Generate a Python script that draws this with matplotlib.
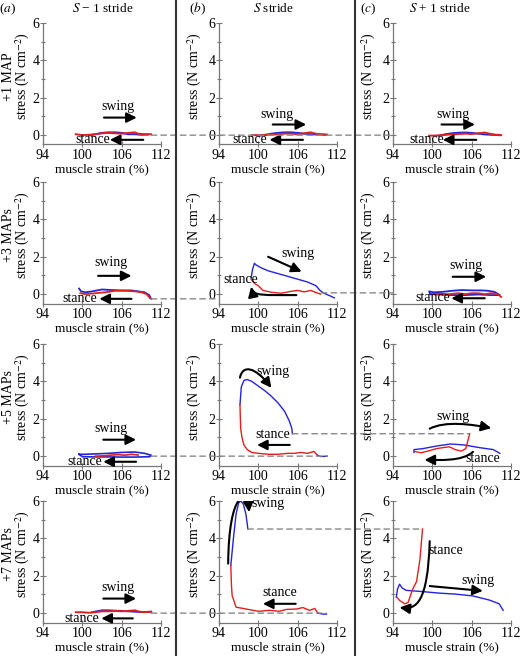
import matplotlib
matplotlib.use("Agg")
import matplotlib.pyplot as plt
from matplotlib.patches import ConnectionPatch, FancyArrowPatch
from matplotlib.path import Path
from matplotlib.lines import Line2D

plt.rcParams['font.family'] = ['Liberation Serif', 'DejaVu Serif']
plt.rcParams['mathtext.fontset'] = 'stix'

# ---- data: (strain %, stress N cm-2) read off the work loops ----
# row 1: +1 MAP
a1_red = [(99, 0.05), (100, 0.0), (101, 0.02), (102, 0.05), (103, 0.1), (104, 0.12), (105, 0.1),
          (106, 0.08), (107, 0.12), (108, 0.15), (108.5, 0.08), (109.5, 0.05), (110.5, 0.05)]
a1_blue = [(101, -0.02), (102, 0.05), (103, 0.12), (104, 0.15), (105, 0.15), (106, 0.12),
           (107, 0.05), (108, 0.05), (109, 0.02), (110, 0.03)]
b1_red = [(99, 0.0), (100, 0.0), (101, 0.02), (102, 0.03), (103, 0.05), (104, 0.08), (105, 0.08),
          (106, 0.05), (107, 0.1), (108, 0.15), (108.7, 0.08), (109.5, 0.05), (110.5, 0.03)]
b1_blue = [(100, -0.03), (101, 0.0), (102, 0.08), (103, 0.12), (104, 0.15), (105, 0.15),
           (106, 0.12), (107, 0.08), (108, 0.05), (109, 0.03), (110.3, 0.02)]
c1_red = [(99.5, -0.03), (100.5, -0.02), (101.5, 0.0), (102.5, 0.03), (104, 0.06), (105, 0.08),
          (106, 0.06), (107, 0.1), (108, 0.14), (108.7, 0.08), (109.5, 0.03), (110.5, 0.0)]
c1_blue = [(101, -0.03), (102, 0.05), (103, 0.1), (104, 0.13), (105, 0.14), (106, 0.12),
           (107, 0.08), (108, 0.04), (109, 0.02), (110.3, 0.0)]

# row 2: +3 MAPs
a2_blue = [(99.5, 0.3), (99.8, 0.15), (100.5, 0.1), (101.5, 0.15), (103, 0.25), (104.5, 0.22),
           (106, 0.2), (107.5, 0.2), (108.5, 0.15), (109.5, 0.1), (110.2, -0.05), (110.5, -0.25)]
a2_red = [(99.7, 0.05), (100.5, 0.0), (102, 0.05), (103.5, 0.1), (105, 0.18), (106.5, 0.18),
          (108, 0.15), (109, 0.1), (109.8, 0.0), (110.3, -0.2)]
b2_blue = [(98.9, 0.85), (99.1, 1.3), (99.4, 1.65), (99.7, 1.55), (100.5, 1.4), (101.5, 1.25),
           (103, 1.1), (104.5, 0.95), (106, 0.8), (107.5, 0.65), (108.8, 0.45), (109.4, 0.2),
           (110, 0.05), (111, -0.1), (111.6, -0.2)]
b2_red = [(98.9, 0.8), (99.5, 0.55), (100, 0.45), (100.7, 0.2), (102, 0.1), (103.5, 0.05),
          (105, 0.15), (106, 0.2), (107, 0.12), (108, 0.2), (108.7, 0.1), (109.5, 0.0)]
c2_blue = [(99.7, 0.0), (99.5, 0.15), (100.2, 0.1), (101.5, 0.12), (103, 0.18), (104.5, 0.22),
           (106, 0.2), (107.5, 0.2), (108.5, 0.18), (109.5, 0.12), (110.3, -0.05), (109, -0.05),
           (107, -0.02), (105, -0.05), (103, -0.05), (101, -0.02), (99.7, 0.0)]
c2_red = [(100, 0.0), (101, 0.02), (102.5, 0.0), (104, 0.05), (105, 0.0), (106, 0.05), (107, 0.05),
          (108, 0.0), (109, 0.05), (110, 0.0), (110.5, -0.15)]

# row 3: +5 MAPs
a3_blue = [(99.5, 0.1), (100.5, 0.1), (102, 0.12), (104, 0.15), (106, 0.2), (108, 0.22),
           (109.5, 0.15), (110.5, 0.05), (110.3, -0.03), (108, -0.05), (106, -0.05),
           (104, -0.04), (102, -0.04), (100, -0.03), (99.5, 0.1)]
a3_red = [(102, 0.0), (103.5, 0.02), (104.5, 0.06), (105.5, 0.08), (106.5, 0.05), (107.5, 0.1),
          (108.5, 0.06)]
b3_blue = [(97.2, 2.75), (97.4, 3.7), (97.8, 4.05), (98.3, 4.1), (99, 4.0), (100, 3.75),
           (101, 3.5), (102, 3.2), (103, 2.85), (104, 2.4), (104.7, 1.9), (105.1, 1.5), (105.2, 1.2)]
b3_red = [(97.2, 2.75), (97.3, 1.5), (97.5, 1.0), (97.8, 0.6), (98.3, 0.35), (99, 0.2),
          (100, 0.15), (101.5, 0.1), (103, 0.1), (104.5, 0.15), (105.5, 0.15), (106.5, 0.2),
          (107.5, 0.15), (108.5, 0.25), (109, 0.05)]
b3_tail = [(109, 0.05), (109.5, -0.02), (110.5, 0.0)]
c3_blue = [(97.2, 0.2), (97.2, 0.35), (98.5, 0.4), (100.8, 0.55), (102.8, 0.65), (104.8, 0.6),
           (107.3, 0.45), (109.3, 0.35), (110.3, 0.15)]
c3_red = [(105.7, 1.2), (105.4, 0.8), (105.1, 0.4), (104.4, 0.27), (103.5, 0.35), (102.6, 0.5),
          (101.5, 0.45), (100.6, 0.4), (99.6, 0.3), (98.3, 0.18), (97.3, 0.25)]

# row 4: +7 MAPs
a4_red = [(99, 0.05), (100, 0.05), (101, 0.02), (102, 0.05), (103, 0.1), (104, 0.1), (105, 0.12),
          (106, 0.1), (107, 0.12), (108, 0.15), (108.7, 0.08), (109.5, 0.05), (110.5, 0.08)]
a4_blue = [(101.5, 0.05), (103, 0.15), (104, 0.15), (105, 0.13), (106, 0.12), (107, 0.1),
           (108, 0.08), (109, 0.06), (110.5, 0.07)]
b4_blue = [(95.8, 2.55), (96.2, 4.0), (96.6, 5.3), (97.0, 5.9), (97.3, 6.0), (97.7, 5.85),
           (98.1, 5.3), (98.3, 4.8), (98.4, 4.5)]
b4_red = [(95.8, 2.55), (95.9, 1.5), (96.0, 0.95), (96.6, 0.32), (97.7, 0.25), (100, 0.1),
          (101.7, 0.15), (103.2, 0.1), (104.3, 0.2), (105.8, 0.22), (106.8, 0.3), (107.8, 0.15),
          (108.6, 0.25), (109.1, 0.0)]
b4_tail = [(109.1, 0.0), (109.8, -0.05), (110.4, -0.05)]
c4_blue = [(94.5, 0.85), (94.7, 1.3), (95.0, 1.55), (95.4, 1.35), (96.0, 1.22), (98.6, 1.15),
           (101.1, 1.07), (103.5, 1.02), (106.2, 0.92), (108.7, 0.7), (110.2, 0.5), (110.8, 0.15)]
c4_red = [(98.5, 4.5), (98.1, 2.85), (97.6, 1.7), (97.0, 1.28), (96.3, 0.57), (95.8, 0.5),
          (95.0, 0.68), (94.6, 0.85)]

row_labels = ['+1 MAP', '+3 MAPs', '+5 MAPs', '+7 MAPs']
col_titles = ['$S$ \u2212 1 stride', '$S$ stride', '$S$ + 1 stride']
col_letters = ['($a$)', '($b$)', '($c$)']

RED = '#e0201c'
BLUE = '#2424d8'
W, H = 522, 656
col_left = [43, 219, 393]
col_title_x = [103, 273, 440]
col_letter_x = [7, 197, 368]
ylab_x = [-0.09, -0.125, -0.125]
row_top = [23, 182, 344, 501]
AXW, AXH = 118, 121.5

fig = plt.figure(figsize=(W / 100, H / 100), dpi=100)


def make_ax(r, c):
    ax = fig.add_axes([col_left[c] / W, 1 - (row_top[r] + AXH) / H, AXW / W, AXH / H])
    ax.set_xlim(94, 112)
    ax.set_ylim(-0.5, 6)
    ax.patch.set_alpha(0)
    for s in ['top', 'right']:
        ax.spines[s].set_visible(False)
    for s in ['left', 'bottom']:
        ax.spines[s].set_color('#777777')
        ax.spines[s].set_linewidth(0.9)
    ax.set_xticks([94, 100, 106, 112])
    ax.set_yticks([0, 2, 4, 6])
    ax.set_yticks([1, 3, 5], minor=True)
    ax.tick_params(which='both', direction='inout', color='#777777', width=0.8,
                   labelsize=10)
    ax.tick_params(axis='x', pad=1.5)
    ax.tick_params(axis='y', pad=0.5)
    ax.tick_params(which='major', length=4)
    ax.tick_params(which='minor', length=3)
    ax.set_xlabel('muscle strain (%)', fontsize=9.5, labelpad=0.5)
    lab = 'stress (N cm$^{-2}$)'
    if c == 0:
        lab = row_labels[r] + '\n' + lab
    ax.set_ylabel(lab, fontsize=10, linespacing=0.95)
    ax.yaxis.set_label_coords(ylab_x[c], 0.56)
    return ax


def line(ax, pts, color, lw=1.0):
    ax.plot([p[0] for p in pts], [p[1] for p in pts], color=color, lw=lw, zorder=3)


HEAD = '-|>,head_length=0.6,head_width=0.3'


def arrow(ax, x0, y0, x1, y1):
    ax.annotate('', xy=(x1, y1), xytext=(x0, y0),
                arrowprops=dict(arrowstyle=HEAD, color='k', lw=1.5, shrinkA=0, shrinkB=0,
                                mutation_scale=10), zorder=4)


def curved(ax, p0, c1, c2, p3):
    path = Path([p0, c1, c2, p3], [Path.MOVETO, Path.CURVE4, Path.CURVE4, Path.CURVE4])
    ax.add_patch(FancyArrowPatch(path=path, arrowstyle=HEAD, color='k', lw=1.5,
                                 mutation_scale=10, zorder=4))


def txt(ax, x, y, s):
    ax.text(x, y, s, fontsize=10, ha='center', va='center', zorder=5)


axes = [[make_ax(r, c) for c in range(3)] for r in range(4)]

# row 1
for c, (red, blue, sw, st) in enumerate([
        (a1_red, a1_blue, (105.4, 1.54, 103.3, 108.3, 0.94), (101.6, 104.2, 109.3)),
        (b1_red, b1_blue, (102.8, 1.1, 102.2, 107.3, 0.57), (98.7, 101.7, 106.8)),
        (c1_red, c1_blue, (103.1, 1.1, 101.4, 106.5, 0.57), (99.1, 101.6, 106.7))]):
    ax = axes[0][c]
    line(ax, blue, BLUE, 1.4)
    line(ax, red, RED, 1.4)
    txt(ax, sw[0], sw[1], 'swing')
    arrow(ax, sw[2], sw[4], sw[3], sw[4])
    txt(ax, st[0], -0.25, 'stance')
    arrow(ax, st[2], -0.25, st[1], -0.25)

# row 2
ax = axes[1][0]
line(ax, a2_blue, BLUE, 1.3)
line(ax, a2_red, RED, 1.3)
txt(ax, 104.4, 1.7, 'swing')
arrow(ax, 102.4, 0.98, 107.5, 0.98)
txt(ax, 99.6, -0.23, 'stance')
arrow(ax, 107.5, -0.25, 102.6, -0.25)

ax = axes[1][1]
line(ax, b2_blue, BLUE)
line(ax, b2_red, RED)
txt(ax, 106.0, 2.2, 'swing')
arrow(ax, 101.5, 2.0, 106.6, 1.2)
txt(ax, 97.3, 0.78, 'stance')
curved(ax, (105.8, -0.05), (101, -0.05), (99.2, -0.1), (98.9, 0.4))

ax = axes[1][2]
line(ax, c2_blue, BLUE, 1.3)
line(ax, c2_red, RED, 1.3)
txt(ax, 105.2, 1.55, 'swing')
arrow(ax, 103.1, 0.93, 108.2, 0.93)
txt(ax, 100.1, -0.2, 'stance')
arrow(ax, 108.0, -0.22, 102.9, -0.22)

# row 3
ax = axes[2][0]
line(ax, a3_blue, BLUE, 1.2)
line(ax, a3_red, RED, 1.2)
txt(ax, 104.4, 1.5, 'swing')
arrow(ax, 103.2, 0.88, 108.2, 0.88)
txt(ax, 100.4, -0.3, 'stance')
arrow(ax, 108.2, -0.3, 103.2, -0.3)

ax = axes[2][1]
line(ax, b3_blue, BLUE)
line(ax, b3_red, RED)
line(ax, b3_tail, BLUE)
txt(ax, 102.2, 4.55, 'swing')
curved(ax, (97.2, 4.2), (97.6, 4.9), (99.5, 4.8), (102.0, 3.65))
txt(ax, 102.2, 1.15, 'stance')
arrow(ax, 104.8, 0.6, 99.8, 0.6)

ax = axes[2][2]
line(ax, c3_blue, BLUE)
line(ax, c3_red, RED)
txt(ax, 103.1, 2.13, 'swing')
curved(ax, (99.6, 1.47), (102, 1.9), (106, 1.7), (109.0, 1.5))
txt(ax, 107.7, -0.12, 'stance')
curved(ax, (106.2, 0.23), (104.5, -0.3), (101, -0.2), (98.8, -0.2))

# row 4
ax = axes[3][0]
line(ax, a4_blue, BLUE, 1.4)
line(ax, a4_red, RED, 1.4)
txt(ax, 105.5, 1.37, 'swing')
arrow(ax, 103.2, 0.78, 108.2, 0.78)
txt(ax, 99.9, -0.28, 'stance')
arrow(ax, 107.7, -0.28, 102.9, -0.28)

ax = axes[3][1]
line(ax, b4_blue, BLUE)
line(ax, b4_red, RED)
line(ax, b4_tail, BLUE)
txt(ax, 101.5, 5.85, 'swing')
curved(ax, (95.4, 2.65), (95.5, 6.6), (98.3, 6.6), (98.6, 5.4))
txt(ax, 103.3, 1.1, 'stance')
arrow(ax, 105.7, 0.5, 100.7, 0.5)

ax = axes[3][2]
line(ax, c4_blue, BLUE)
line(ax, c4_red, RED)
txt(ax, 102.0, 3.35, 'stance')
curved(ax, (99.6, 3.85), (99.3, 0.5), (97.5, 0.2), (95.0, 0.3))
txt(ax, 107.0, 1.75, 'swing')
arrow(ax, 99.6, 1.45, 107.7, 1.19)

# dashed links between strides
links = [((0, 0), (110.5, 0.0), (0, 2), (94, 0.0)),
         ((1, 0), (110.5, -0.25), (1, 1), (94, -0.25)),
         ((1, 1), (109.6, 0.07), (1, 2), (94, 0.07)),
         ((2, 0), (110.5, 0.0), (2, 1), (110.5, 0.0)),
         ((2, 1), (105.2, 1.2), (2, 2), (105.6, 1.2)),
         ((3, 0), (110.5, 0.0), (3, 1), (110.4, 0.0)),
         ((3, 1), (98.4, 4.5), (3, 2), (98.5, 4.5))]
for (ra, ca), pa, (rb, cb), pb in links:
    con = ConnectionPatch(xyA=pa, xyB=pb, coordsA='data', coordsB='data',
                          axesA=axes[ra][ca], axesB=axes[rb][cb],
                          color='#888888', lw=1.0, linestyle=(0, (4, 3)), zorder=2)
    fig.add_artist(con)

# separators and column headings
for x in [176, 355]:
    fig.add_artist(Line2D([x / W, x / W], [0.0, 1.0], transform=fig.transFigure,
                          color='#333333', lw=1.5))
for c in range(3):
    fig.text(col_title_x[c] / W, 1 - 9 / H, col_titles[c], fontsize=9.5, ha='center', va='center')
    fig.text(col_letter_x[c] / W, 1 - 9 / H, col_letters[c], fontsize=9.5, ha='center', va='center')

fig.savefig('out.png', dpi=100)
